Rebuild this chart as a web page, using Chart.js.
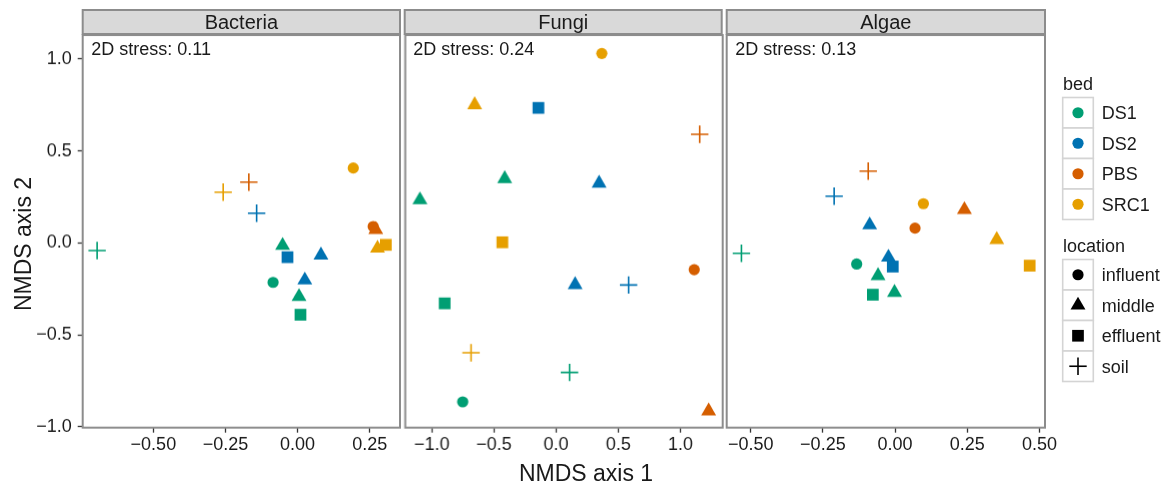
<!DOCTYPE html>
<html><head><meta charset="utf-8">
<script src="https://cdn.jsdelivr.net/npm/chart.js@4/dist/chart.umd.min.js"></script>
<style>
html,body{margin:0;padding:0;background:#fff;}
body{width:1165px;height:483px;position:relative;overflow:hidden;font-family:'Liberation Sans',Arial,Helvetica,sans-serif;}
.pc{position:absolute;}
#ov{position:absolute;left:0;top:0;pointer-events:none;}
</style></head><body>
<div class="pc" id="c0"><canvas id="k0"></canvas></div>
<div class="pc" id="c1"><canvas id="k1"></canvas></div>
<div class="pc" id="c2"><canvas id="k2"></canvas></div>
<svg id="ov" width="1165" height="483" xmlns="http://www.w3.org/2000/svg"></svg>
<script>
// ---------------- data ----------------
const beds = ['DS1', 'DS2', 'PBS', 'SRC1'];
const locations = ['influent', 'middle', 'effluent', 'soil'];
const panels = ['Bacteria', 'Fungi', 'Algae'];
const stressValues = ['0.11', '0.24', '0.13'];

const bacteriaBed = ['DS1','SRC1','PBS','DS2','SRC1','PBS','PBS','SRC1','SRC1','DS1','DS2','DS2','DS1','DS2','DS1','DS1'];
const bacteriaLoc = ['soil','soil','soil','soil','influent','influent','middle','middle','effluent','middle','effluent','middle','influent','middle','middle','effluent'];
const bacteriaX = [-0.695,-0.258,-0.169,-0.142,0.193,0.262,0.271,0.277,0.306,-0.052,-0.035,0.081,-0.085,0.025,0.005,0.010];
const bacteriaY = [-0.042,0.276,0.330,0.161,0.407,0.089,0.072,-0.030,-0.011,-0.015,-0.078,-0.067,-0.215,-0.203,-0.293,-0.391];

const fungiBed = ['SRC1','SRC1','DS2','PBS','DS1','DS2','DS1','SRC1','PBS','DS2','DS2','DS1','SRC1','DS1','DS1','PBS'];
const fungiLoc = ['influent','middle','effluent','soil','middle','middle','middle','effluent','influent','middle','soil','effluent','soil','soil','influent','middle'];
const fungiX = [0.368,-0.655,-0.142,1.155,-0.413,0.346,-1.095,-0.432,1.111,0.153,0.583,-0.896,-0.684,0.108,-0.751,1.227];
const fungiY = [1.030,0.750,0.734,0.590,0.348,0.324,0.233,0.003,-0.146,-0.228,-0.229,-0.329,-0.598,-0.705,-0.865,-0.915];

const algaeBed = ['PBS','DS2','SRC1','PBS','DS2','PBS','SRC1','DS1','DS2','DS2','DS1','SRC1','DS1','DS1','DS1'];
const algaeLoc = ['soil','soil','influent','middle','middle','influent','middle','soil','middle','effluent','influent','effluent','middle','effluent','middle'];
const algaeX = [-0.093,-0.211,0.098,0.240,-0.088,0.069,0.352,-0.532,-0.023,-0.008,-0.133,0.466,-0.059,-0.077,-0.002];
const algaeY = [0.390,0.254,0.213,0.180,0.097,0.080,0.017,-0.057,-0.079,-0.129,-0.115,-0.124,-0.179,-0.282,-0.270];

const yTicks = [-1, -0.5, 0, 0.5, 1];
const bacteriaXTicks = [-0.5, -0.25, 0, 0.25];
const fungiXTicks = [-1, -0.5, 0, 0.5, 1];
const algaeXTicks = [-0.5, -0.25, 0, 0.25, 0.5];

// ---------------- styles / layout ----------------
const FONT = "'Liberation Sans', Arial, Helvetica, sans-serif";
const bedColor = {DS1:'#009E73', DS2:'#0072B2', PBS:'#D55E00', SRC1:'#E69F00'};
const locStyle = {influent:'circle', middle:'triangle', effluent:'rect', soil:'cross'};
const locRadius = {influent:5.6, middle:8.6, effluent:8.3, soil:8.7};
const TOP = 35, BOTTOM = 426.7, YMIN = -1.005, YMAX = 1.13;
const geom = [
  {left:82.7, right:400, xmin:-0.745, xmax:0.355, dec:2},
  {left:404.7, right:721.7, xmin:-1.213, xmax:1.340, dec:1},
  {left:726.7, right:1045, xmin:-0.583, xmax:0.519, dec:2}
];
const panelData = [
  {bed:bacteriaBed, loc:bacteriaLoc, x:bacteriaX, y:bacteriaY, ticks:bacteriaXTicks},
  {bed:fungiBed, loc:fungiLoc, x:fungiX, y:fungiY, ticks:fungiXTicks},
  {bed:algaeBed, loc:algaeLoc, x:algaeX, y:algaeY, ticks:algaeXTicks}
];
const PADT = 20, PADR = 30, PADL = 10, XAXH = 40;

function fmt(v, dec){ return (v < 0 ? '\u2212' : '') + Math.abs(v).toFixed(dec); }

const borderPlugin = {
  id:'pborder',
  afterDraw(chart){
    const {ctx, chartArea:a} = chart;
    ctx.save();
    ctx.strokeStyle = '#8c8c8c';
    ctx.lineWidth = 2;
    ctx.strokeRect(a.left, a.top, a.right - a.left, a.bottom - a.top);
    ctx.restore();
  }
};

const charts = [];
panelData.forEach((pd, i) => {
  const g = geom[i];
  const showY = i === 0;
  const padL = showY ? 0 : PADL;
  const cont = document.getElementById('c' + i);
  const w = (g.right - g.left) + (showY ? g.left : PADL) + PADR;
  const h = PADT + (BOTTOM - TOP) + XAXH;
  cont.style.width = w + 'px';
  cont.style.height = h + 'px';
  cont.style.left = (showY ? 0 : g.left - PADL) + 'px';
  cont.style.top = (TOP - PADT) + 'px';
  const tickFont = {family: FONT, size: 18};
  const chart = new Chart(document.getElementById('k' + i), {
    type: 'scatter',
    data: {
      datasets: [{
        data: pd.x.map((x, j) => ({x: x, y: pd.y[j]})),
        pointStyle: ctx => locStyle[pd.loc[ctx.dataIndex]],
        pointRadius: ctx => locRadius[pd.loc[ctx.dataIndex]],
        pointHoverRadius: ctx => locRadius[pd.loc[ctx.dataIndex]],
        pointBackgroundColor: ctx => bedColor[pd.bed[ctx.dataIndex]],
        pointBorderColor: ctx => bedColor[pd.bed[ctx.dataIndex]],
        pointBorderWidth: ctx => pd.loc[ctx.dataIndex] === 'soil' ? 1.6 : 0,
        pointHoverBorderWidth: ctx => pd.loc[ctx.dataIndex] === 'soil' ? 1.6 : 0,
        showLine: false,
        clip: false
      }]
    },
    options: {
      responsive: true,
      maintainAspectRatio: false,
      animation: false,
      events: [],
      layout: {padding: {top: PADT, right: PADR, bottom: 0, left: padL}},
      plugins: {legend: {display: false}, tooltip: {enabled: false}},
      scales: {
        x: {
          type: 'linear', min: g.xmin, max: g.xmax,
          afterBuildTicks: s => { s.ticks = pd.ticks.map(v => ({value: v})); },
          afterFit: s => { s.height = XAXH; },
          ticks: {callback: v => fmt(v, g.dec), font: tickFont, color: '#1a1a1a', padding: 2, maxRotation: 0, autoSkip: false},
          grid: {drawOnChartArea: false, drawTicks: true, tickLength: 5, tickColor: '#333333', tickWidth: 1.3},
          border: {display: false}
        },
        y: {
          type: 'linear', min: YMIN, max: YMAX, display: showY,
          afterBuildTicks: s => { s.ticks = yTicks.map(v => ({value: v})); },
          afterFit: s => { s.width = g.left; },
          ticks: {callback: v => fmt(v, 1), font: tickFont, color: '#1a1a1a', padding: 6, autoSkip: false},
          grid: {drawOnChartArea: false, drawTicks: true, tickLength: 5, tickColor: '#333333', tickWidth: 1.3},
          border: {display: false}
        }
      }
    },
    plugins: [borderPlugin]
  });
  // align chart area exactly with the panel rectangle
  for (let it = 0; it < 3; it++) {
    const a = chart.chartArea;
    const dW = (g.right - g.left) - (a.right - a.left);
    const dH = (BOTTOM - TOP) - (a.bottom - a.top);
    if (Math.abs(dW) > 0.05 || Math.abs(dH) > 0.05) {
      cont.style.width = (parseFloat(cont.style.width) + dW) + 'px';
      cont.style.height = (parseFloat(cont.style.height) + dH) + 'px';
      chart.resize();
    }
    const b = chart.chartArea;
    cont.style.left = (parseFloat(cont.style.left) + (g.left - (parseFloat(cont.style.left) + b.left))) + 'px';
    cont.style.top = (TOP - b.top) + 'px';
  }
  charts.push(chart);
});

// ---------------- overlay text / strips / legend ----------------
const NS = 'http://www.w3.org/2000/svg';
const ov = document.getElementById('ov');
function el(tag, attrs, text){
  const e = document.createElementNS(NS, tag);
  for (const k in attrs) e.setAttribute(k, attrs[k]);
  if (text !== undefined) e.textContent = text;
  ov.appendChild(e);
  return e;
}
const TXT = '#1a1a1a';
panels.forEach((p, i) => {
  const g = geom[i];
  el('rect', {x: g.left, y: 10, width: g.right - g.left, height: 24, fill: '#D9D9D9', stroke: '#8c8c8c', 'stroke-width': 2});
  el('text', {x: (g.left + g.right) / 2, y: 29, 'text-anchor': 'middle', 'font-family': FONT, 'font-size': 20, fill: TXT}, p);
  el('text', {x: g.left + 8.5, y: 55, 'font-family': FONT, 'font-size': 18, fill: TXT}, '2D stress: ' + stressValues[i]);
});
// axis titles
el('text', {x: 586, y: 480.5, 'text-anchor': 'middle', 'font-family': FONT, 'font-size': 23, fill: TXT}, 'NMDS axis 1');
el('text', {x: 0, y: 0, transform: 'translate(31,244) rotate(-90)', 'text-anchor': 'middle', 'font-family': FONT, 'font-size': 23, fill: TXT}, 'NMDS axis 2');

// legend
const KX = 1062.7, KW = 30.6, KH = 30.5, KCX = KX + KW / 2, LX = 1101.7;
function shape(style, cx, cy, color){
  if (style === 'circle') el('circle', {cx: cx, cy: cy, r: 5.6, fill: color});
  else if (style === 'triangle') {
    const r = 8.6, s = r * Math.sqrt(3) / 2;
    el('polygon', {points: `${cx},${cy - r} ${cx + s},${cy + r / 2} ${cx - s},${cy + r / 2}`, fill: color});
  } else if (style === 'rect') el('rect', {x: cx - 5.85, y: cy - 5.85, width: 11.7, height: 11.7, fill: color});
  else {
    el('line', {x1: cx - 8.7, y1: cy, x2: cx + 8.7, y2: cy, stroke: color, 'stroke-width': 1.6});
    el('line', {x1: cx, y1: cy - 8.7, x2: cx, y2: cy + 8.7, stroke: color, 'stroke-width': 1.6});
  }
}
el('text', {x: 1063, y: 89.5, 'font-family': FONT, 'font-size': 18, fill: TXT}, 'bed');
beds.forEach((b, i) => {
  const top = 97.5 + i * KH;
  el('rect', {x: KX, y: top, width: KW, height: KH, fill: '#fff', stroke: '#d4d4d4', 'stroke-width': 1.6});
  shape('circle', KCX, top + KH / 2, bedColor[b]);
  el('text', {x: LX, y: top + KH / 2 + 6.4, 'font-family': FONT, 'font-size': 18, fill: TXT}, b);
});
el('text', {x: 1063, y: 251.5, 'font-family': FONT, 'font-size': 18, fill: TXT}, 'location');
locations.forEach((l, i) => {
  const top = 259.5 + i * KH;
  el('rect', {x: KX, y: top, width: KW, height: KH, fill: '#fff', stroke: '#d4d4d4', 'stroke-width': 1.6});
  shape(locStyle[l], KCX, top + KH / 2, '#000');
  el('text', {x: LX, y: top + KH / 2 + 6.4, 'font-family': FONT, 'font-size': 18, fill: TXT}, l);
});
</script>
</body></html>
